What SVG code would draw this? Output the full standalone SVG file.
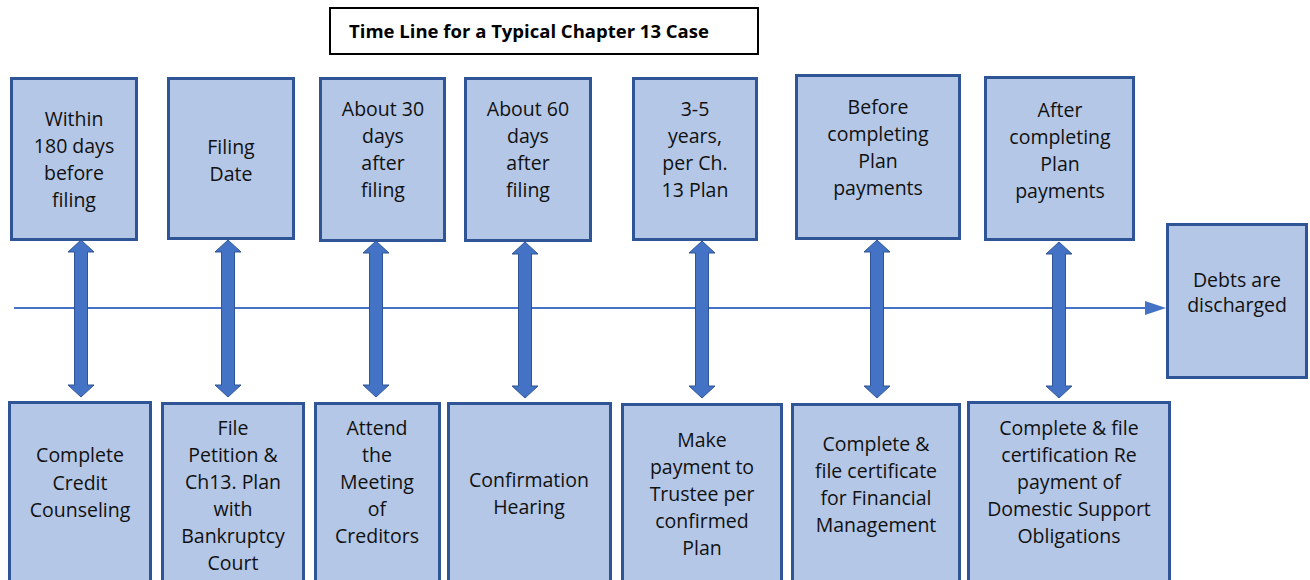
<svg xmlns="http://www.w3.org/2000/svg" width="1310" height="580" viewBox="0 0 1310 580">
<style>
.box{fill:#B4C7E7;stroke:#2F5597;stroke-width:3}
.t{font-family:"Open Sans","Liberation Sans",sans-serif;font-size:19.5px;fill:#111;text-anchor:middle}
.title{font-family:"Open Sans","Liberation Sans",sans-serif;font-size:18.5px;font-weight:bold;fill:#000;text-anchor:middle}
.dbl{fill:#4472C4;stroke:#2F5597;stroke-width:1}
.tl{stroke:#4472C4;stroke-width:2;fill:none}
</style>
<rect width="1310" height="580" fill="#fff"/>
<g id="title">
<rect x="330" y="8" width="428" height="46" fill="#fff" stroke="#000" stroke-width="2"/>
<text class="title" x="529" y="38">Time Line for a Typical Chapter 13 Case</text>
</g>
<g id="connectors">
<line class="tl" x1="14" y1="308" x2="1148" y2="308"/>
<polygon points="1145,301 1166,308 1145,315" fill="#4472C4"/>
<path class="dbl" d="M81,240 L94,252 L87.5,252 L87.5,385 L94,385 L81,397 L68,385 L74.5,385 L74.5,252 L68,252 Z"/>
<path class="dbl" d="M228,240 L241,252 L234.5,252 L234.5,385 L241,385 L228,397 L215,385 L221.5,385 L221.5,252 L215,252 Z"/>
<path class="dbl" d="M376,241 L389,253 L382.5,253 L382.5,385 L389,385 L376,397 L363,385 L369.5,385 L369.5,253 L363,253 Z"/>
<path class="dbl" d="M525,242 L538,254 L531.5,254 L531.5,386 L538,386 L525,398 L512,386 L518.5,386 L518.5,254 L512,254 Z"/>
<path class="dbl" d="M702,241 L715,253 L708.5,253 L708.5,386 L715,386 L702,398 L689,386 L695.5,386 L695.5,253 L689,253 Z"/>
<path class="dbl" d="M877,240 L890,252 L883.5,252 L883.5,386 L890,386 L877,398 L864,386 L870.5,386 L870.5,252 L864,252 Z"/>
<path class="dbl" d="M1059,242 L1072,254 L1065.5,254 L1065.5,386 L1072,386 L1059,398 L1046,386 L1052.5,386 L1052.5,254 L1046,254 Z"/>
</g>
<g id="top1"><rect class="box" x="11.5" y="78.5" width="125" height="161"/>
<text class="t" x="74" y="126">Within</text><text class="t" x="74" y="153">180 days</text><text class="t" x="74" y="180">before</text><text class="t" x="74" y="207">filing</text></g>
<g id="top2"><rect class="box" x="168.5" y="78.5" width="125" height="160"/>
<text class="t" x="231" y="154">Filing</text><text class="t" x="231" y="181">Date</text></g>
<g id="top3"><rect class="box" x="320.5" y="78.5" width="124" height="162"/>
<text class="t" x="383" y="116">About 30</text><text class="t" x="383" y="143">days</text><text class="t" x="383" y="170">after</text><text class="t" x="383" y="197">filing</text></g>
<g id="top4"><rect class="box" x="465.5" y="78.5" width="125" height="162"/>
<text class="t" x="528" y="116">About 60</text><text class="t" x="528" y="143">days</text><text class="t" x="528" y="170">after</text><text class="t" x="528" y="197">filing</text></g>
<g id="top5"><rect class="box" x="633.5" y="78.5" width="123" height="161"/>
<text class="t" x="695" y="116">3-5</text><text class="t" x="695" y="143">years,</text><text class="t" x="695" y="170">per Ch.</text><text class="t" x="695" y="197">13 Plan</text></g>
<g id="top6"><rect class="box" x="796.5" y="75.5" width="163" height="163"/>
<text class="t" x="878" y="114">Before</text><text class="t" x="878" y="141">completing</text><text class="t" x="878" y="168">Plan</text><text class="t" x="878" y="195">payments</text></g>
<g id="top7"><rect class="box" x="985.5" y="77.5" width="148" height="162"/>
<text class="t" x="1060" y="117">After</text><text class="t" x="1060" y="144">completing</text><text class="t" x="1060" y="171">Plan</text><text class="t" x="1060" y="198">payments</text></g>
<g id="debts"><rect class="box" x="1167.5" y="224.5" width="139" height="153"/>
<text class="t" x="1237" y="287">Debts are</text><text class="t" x="1237" y="312">discharged</text></g>
<g id="bot1"><rect class="box" x="9.5" y="402.5" width="141" height="182"/>
<text class="t" x="80" y="462">Complete</text><text class="t" x="80" y="490">Credit</text><text class="t" x="80" y="517">Counseling</text></g>
<g id="bot2"><rect class="box" x="162.5" y="403.5" width="141" height="181"/>
<text class="t" x="233" y="435">File</text><text class="t" x="233" y="462">Petition &amp;</text><text class="t" x="233" y="489">Ch13. Plan</text><text class="t" x="233" y="516">with</text><text class="t" x="233" y="543">Bankruptcy</text><text class="t" x="233" y="570">Court</text></g>
<g id="bot3"><rect class="box" x="315.5" y="403.5" width="124" height="181"/>
<text class="t" x="377" y="435">Attend</text><text class="t" x="377" y="462">the</text><text class="t" x="377" y="489">Meeting</text><text class="t" x="377" y="516">of</text><text class="t" x="377" y="543">Creditors</text></g>
<g id="bot4"><rect class="box" x="448.5" y="403.5" width="162" height="181"/>
<text class="t" x="529" y="487">Confirmation</text><text class="t" x="529" y="514">Hearing</text></g>
<g id="bot5"><rect class="box" x="622.5" y="404.5" width="159" height="180"/>
<text class="t" x="702" y="447">Make</text><text class="t" x="702" y="474">payment to</text><text class="t" x="702" y="501">Trustee per</text><text class="t" x="702" y="528">confirmed</text><text class="t" x="702" y="555">Plan</text></g>
<g id="bot6"><rect class="box" x="792.5" y="404.5" width="167" height="180"/>
<text class="t" x="876" y="451">Complete &amp;</text><text class="t" x="876" y="478">file certificate</text><text class="t" x="876" y="505">for Financial</text><text class="t" x="876" y="532">Management</text></g>
<g id="bot7"><rect class="box" x="968.5" y="402.5" width="201" height="182"/>
<text class="t" x="1069" y="435">Complete &amp; file</text><text class="t" x="1069" y="462">certification Re</text><text class="t" x="1069" y="489">payment of</text><text class="t" x="1069" y="516">Domestic Support</text><text class="t" x="1069" y="543">Obligations</text></g>
</svg>
